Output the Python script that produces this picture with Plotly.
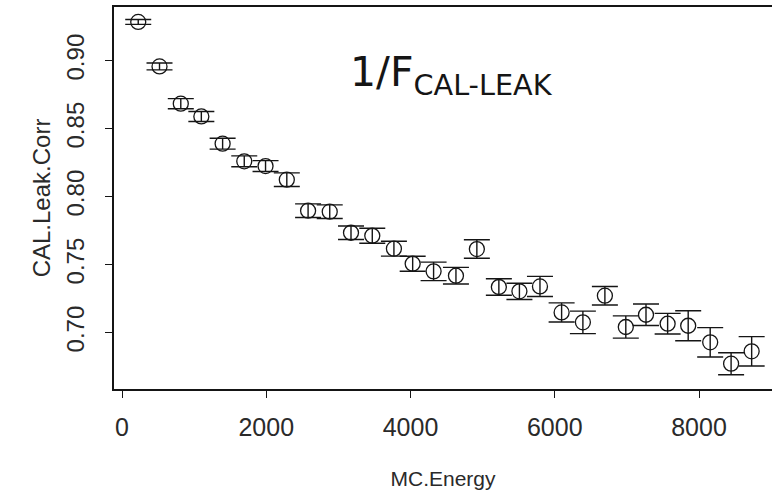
import plotly.graph_objects as go

# Mean MC energy per bin and the leakage correction factor with its uncertainty
mc_energy = [225, 520, 815, 1100, 1395, 1695, 1990, 2285, 2580, 2880,
             3175, 3470, 3770, 4030, 4320, 4630, 4920, 5225, 5510, 5795,
             6095, 6390, 6695, 6985, 7265, 7565, 7850, 8155, 8445, 8730]
leak_corr = [0.9285, 0.8958, 0.8684, 0.8590, 0.8390, 0.8260, 0.8225, 0.8125,
             0.7897, 0.7890, 0.7735, 0.7713, 0.7618, 0.7507, 0.7451, 0.7419,
             0.7615, 0.7336, 0.7304, 0.7340, 0.7149, 0.7076, 0.7272, 0.7042,
             0.7132, 0.7066, 0.7051, 0.6929, 0.6772, 0.6863]
leak_err = [0.0018, 0.0025, 0.0037, 0.0037, 0.0040, 0.0040, 0.0040, 0.0050,
            0.0050, 0.0050, 0.0050, 0.0055, 0.0055, 0.0055, 0.0068, 0.0061,
            0.0068, 0.0061, 0.0060, 0.0074, 0.0070, 0.0083, 0.0068, 0.0082,
            0.0079, 0.0076, 0.0110, 0.0108, 0.0081, 0.0108]

x_ticks = [0, 2000, 4000, 6000, 8000]
y_ticks = [0.70, 0.75, 0.80, 0.85, 0.90]
y_tick_text = ["0.70", "0.75", "0.80", "0.85", "0.90"]

ink = "#151515"
label_ink = "#2a2a2a"

fig = go.Figure()
fig.add_trace(go.Scatter(
    x=mc_energy,
    y=leak_corr,
    mode="markers",
    marker=dict(symbol="circle-open", size=15, color=ink, line=dict(width=1.3, color=ink)),
    error_y=dict(type="data", array=leak_err, visible=True, color=ink, thickness=1.4, width=13),
    showlegend=False,
))

fig.add_annotation(
    text="1/F<sub>CAL-LEAK</sub>",
    xref="paper", yref="paper",
    x=0.3556, y=0.822,
    xanchor="left", yanchor="middle",
    showarrow=False,
    font=dict(family="DejaVu Sans", size=41, color=ink),
)

fig.update_layout(
    width=772, height=497,
    margin=dict(l=114, r=0, t=7, b=108),
    paper_bgcolor="white",
    plot_bgcolor="white",
    font=dict(family="Liberation Sans", color=label_ink),
    xaxis=dict(
        range=[-111, 9012],
        tickvals=x_ticks,
        ticks="outside", ticklen=7, tickwidth=1.3, tickcolor=ink,
        showline=True, linecolor=ink, linewidth=1.6, mirror=True,
        showgrid=False, zeroline=False,
        tickfont=dict(size=25, color=label_ink),
        ticklabelstandoff=8,
        title=dict(text="MC.Energy", font=dict(size=21, color=label_ink), standoff=32),
    ),
    yaxis=dict(
        range=[0.6586, 0.9395],
        tickvals=y_ticks, ticktext=y_tick_text,
        tickangle=-90,
        ticks="outside", ticklen=7, tickwidth=1.3, tickcolor=ink,
        showline=True, linecolor=ink, linewidth=1.6, mirror=False,
        showgrid=False, zeroline=False,
        tickfont=dict(size=24, color=label_ink),
        ticklabelstandoff=12,
        title=dict(text="CAL.Leak.Corr", font=dict(size=24, color=label_ink), standoff=4),
    ),
)

fig.write_html("out.html")
